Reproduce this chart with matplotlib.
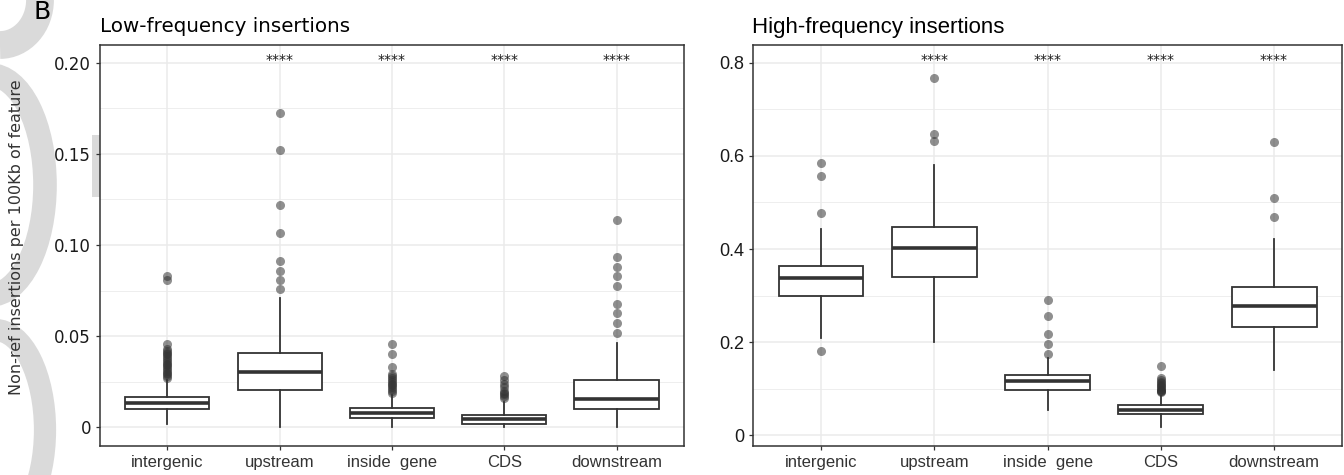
import matplotlib
matplotlib.use("Agg")
import matplotlib.pyplot as plt
from matplotlib.ticker import MultipleLocator
from matplotlib.patches import Arc, Rectangle
from matplotlib.transforms import offset_copy

categories = ["intergenic", "upstream", "inside  gene", "CDS", "downstream"]

# Low-frequency panel: box statistics
low_q1 = [0.0098, 0.0202, 0.0050, 0.0020, 0.0100]
low_med = [0.0133, 0.0306, 0.0078, 0.0047, 0.0155]
low_q3 = [0.0168, 0.0406, 0.0105, 0.0069, 0.0257]
low_lo = [0.0020, 0.0000, 0.0000, 0.0003, 0.0000]
low_hi = [0.0257, 0.0710, 0.0175, 0.0140, 0.0463]
low_fliers = [
    [0.027, 0.028, 0.029, 0.030, 0.031, 0.032, 0.033, 0.034, 0.035, 0.036,
     0.037, 0.038, 0.039, 0.040, 0.041, 0.042, 0.043, 0.0455, 0.081, 0.083],
    [0.076, 0.081, 0.086, 0.091, 0.1066, 0.122, 0.1523, 0.1727],
    [0.019, 0.020, 0.021, 0.022, 0.023, 0.024, 0.025, 0.026, 0.027, 0.028,
     0.029, 0.0333, 0.040, 0.0457],
    [0.016, 0.017, 0.018, 0.019, 0.020, 0.022, 0.024, 0.026, 0.028],
    [0.0517, 0.057, 0.0625, 0.0676, 0.0776, 0.083, 0.088, 0.0935, 0.114],
]
low_stars = ["", "****", "****", "****", "****"]

# High-frequency panel
high_q1 = [0.300, 0.340, 0.098, 0.045, 0.233]
high_med = [0.337, 0.403, 0.1157, 0.055, 0.278]
high_q3 = [0.3636, 0.448, 0.1286, 0.065, 0.318]
high_lo = [0.209, 0.200, 0.055, 0.018, 0.140]
high_hi = [0.444, 0.580, 0.165, 0.084, 0.421]
high_fliers = [
    [0.182, 0.478, 0.557, 0.584],
    [0.632, 0.646, 0.768],
    [0.174, 0.195, 0.218, 0.257, 0.291],
    [0.092, 0.094, 0.096, 0.098, 0.100, 0.103, 0.106, 0.109, 0.112, 0.115,
     0.118, 0.122, 0.149],
    [0.468, 0.510, 0.630],
]
high_stars = ["", "****", "****", "****", "****"]

dark = "#333333"
grid = "#ebebeb"
narrow = ["Liberation Sans", "DejaVu Sans"]


def draw_panel(ax, q1, med, q3, lo, hi, fliers, stars, star_y, ylim, major, minor,
               ticklabels, tickfont, ticksize):
    stats = []
    for i in range(len(categories)):
        stats.append({"med": med[i], "q1": q1[i], "q3": q3[i],
                      "whislo": lo[i], "whishi": hi[i], "fliers": fliers[i]})
    pos = list(range(1, len(categories) + 1))
    ax.bxp(stats, positions=pos, widths=0.75, patch_artist=True, showcaps=False,
           boxprops=dict(facecolor="white", edgecolor=dark, linewidth=1.3),
           whiskerprops=dict(color=dark, linewidth=1.3),
           medianprops=dict(color=dark, linewidth=2.6),
           flierprops=dict(marker="o", markerfacecolor=dark, markeredgecolor="none",
                           markersize=6.5, alpha=0.55))
    star_tr = offset_copy(ax.transData, fig=ax.figure, y=3, units="dots")
    for p, s in zip(pos, stars):
        ax.text(p, star_y, s, ha="center", va="center", fontsize=10, color="#1a1a1a",
                transform=star_tr)
    ax.set_xlim(0.4, 5.6)
    ax.set_ylim(*ylim)
    ax.yaxis.set_major_locator(MultipleLocator(major))
    ax.yaxis.set_minor_locator(MultipleLocator(minor))
    ax.set_yticks(ax.get_yticks())
    ax.set_ylim(*ylim)
    ax.set_yticklabels(ticklabels, fontsize=ticksize, family=tickfont, color="#1a1a1a")
    ax.set_xticks(pos)
    ax.set_xticklabels(categories, fontsize=12, family=narrow, color="#333333")
    ax.grid(True, which="major", color=grid, linewidth=1.1)
    ax.grid(True, which="minor", axis="y", color=grid, linewidth=0.6)
    ax.set_axisbelow(True)
    ax.tick_params(axis="both", which="major", length=3, color=dark, width=0.9)
    ax.tick_params(axis="y", which="minor", length=0)
    for sp in ax.spines.values():
        sp.set_color(dark)
        sp.set_linewidth(1.1)


fig = plt.figure(figsize=(13.44, 4.75), dpi=100)

# faint grey page decoration behind the left margin
bg = fig.add_axes([0, 0, 1, 1], zorder=-5)
bg.set_xlim(0, 1344)
bg.set_ylim(475, 0)
bg.axis("off")
gray = "#dadada"
bg.add_patch(Arc((0, 0), 80, 90, theta1=-90, theta2=90, color=gray, lw=20))
bg.add_patch(Arc((-10, 185), 110, 220, theta1=-90, theta2=90, color=gray, lw=17))
bg.add_patch(Arc((-5, 430), 100, 200, theta1=-90, theta2=90, color=gray, lw=16))
bg.add_patch(Rectangle((92, 135), 12, 62, color=gray, lw=0))

ax1 = fig.add_axes([0.0744, 0.0621, 0.4345, 0.844])
ax2 = fig.add_axes([0.5603, 0.0621, 0.4382, 0.844])

draw_panel(ax1, low_q1, low_med, low_q3, low_lo, low_hi, low_fliers, low_stars,
           0.2, (-0.01, 0.21), 0.05, 0.025,
           ["", "0", "0.05", "0.10", "0.15", "0.20", ""], "DejaVu Sans", 12)
draw_panel(ax2, high_q1, high_med, high_q3, high_lo, high_hi, high_fliers, high_stars,
           0.8, (-0.022, 0.839), 0.2, 0.1,
           ["", "0", "0.2", "0.4", "0.6", "0.8", ""], narrow, 13)

ax1.set_ylabel("Non-ref insertions per 100Kb of feature", fontsize=11.5,
               color="#333333")
ax1.yaxis.set_label_coords(-0.13, 0.52)

fig.text(100 / 1344, 1 - 32 / 475, "Low-frequency insertions", fontsize=14.3,
         ha="left", va="baseline")
fig.text(752 / 1344, 1 - 33 / 475, "High-frequency insertions", fontsize=16,
         family=narrow, ha="left", va="baseline")
fig.text(33 / 1344, 1 - 19 / 475, "B", fontsize=18, ha="left", va="baseline")

fig.savefig("out.png", dpi=100)
